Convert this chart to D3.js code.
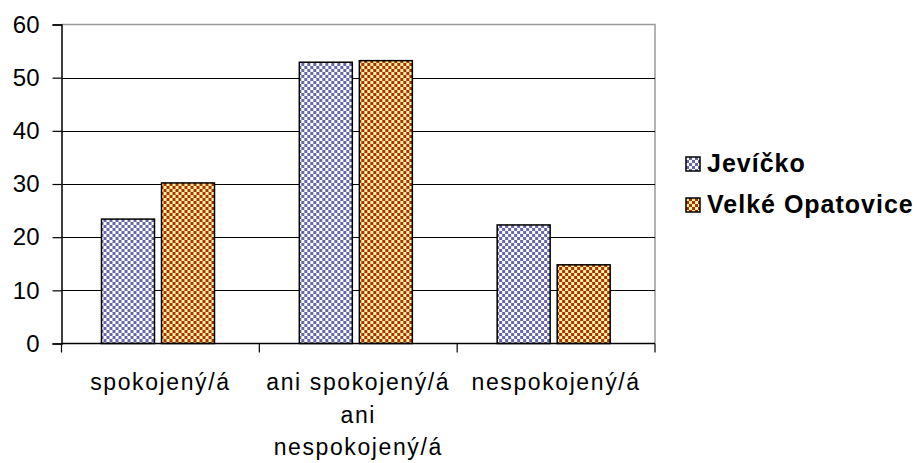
<!DOCTYPE html>
<html>
<head>
<meta charset="utf-8">
<script src="https://cdn.jsdelivr.net/npm/d3@7"></script>
<style>
  body { margin: 0; background: #fff; }
  text { font-family: "Liberation Sans", Arial, sans-serif; fill: #000; }
</style>
</head>
<body>
<div id="chart"></div>
<script>
// chart data
const categories = [["spokojený/á"], ["ani spokojený/á", "ani", "nespokojený/á"], ["nespokojený/á"]];
const seriesNames = ["Jevíčko", "Velké Opatovice"];
const jevickoValues = [23.4, 52.9, 22.3];
const opatoviceValues = [30.2, 53.2, 14.8];
const yTicks = [0, 10, 20, 30, 40, 50, 60];

const width = 917;
const height = 463;
const plot = {left: 61.5, right: 655, top: 24.5, bottom: 343.5};

const svg = d3.select('#chart')
    .append('svg')
    .attr('width', width)
    .attr('height', height);

// hatch patterns, small checkerboards
const defs = svg.append('defs');
function checker(id, dark, light) {
    const p = defs.append('pattern')
        .attr('id', id)
        .attr('patternUnits', 'userSpaceOnUse')
        .attr('width', 6).attr('height', 6);
    p.append('rect').attr('width', 6).attr('height', 6).attr('fill', dark);
    p.append('rect').attr('x', 0).attr('y', 0).attr('width', 3).attr('height', 3).attr('fill', light);
    p.append('rect').attr('x', 3).attr('y', 3).attr('width', 3).attr('height', 3).attr('fill', light);
}
checker('pat0', '#6666aa', '#ffffff');
checker('pat1', '#a83200', '#fff2a8');
const fills = ['url(#pat0)', 'url(#pat1)'];

const y = d3.scaleLinear()
    .domain([0, 60])
    .range([plot.bottom, plot.top]);

const catKeys = categories.map(c => c.join(' '));
const x0 = d3.scaleBand()
    .domain(catKeys)
    .range([plot.left, plot.right])
    .padding(0);

const x1 = d3.scaleBand()
    .domain(seriesNames)
    .range([40, 153])
    .paddingInner(0.117);

// plot area border (grey) top and right
svg.append('path')
    .attr('d', `M${plot.left},${plot.top}H${plot.right}V${plot.bottom}`)
    .attr('fill', 'none')
    .attr('stroke', '#9a9a9a')
    .attr('stroke-width', 1.5);

// gridlines
svg.append('g')
    .selectAll('line')
    .data(yTicks.filter(t => t > 0 && t < 60))
    .enter()
    .append('line')
    .attr('x1', plot.left).attr('x2', plot.right)
    .attr('y1', d => Math.round(y(d)) + 0.5)
    .attr('y2', d => Math.round(y(d)) + 0.5)
    .attr('stroke', '#000')
    .attr('stroke-width', 1.2);

// bars
const series = [jevickoValues, opatoviceValues];
const groups = svg.append('g')
    .selectAll('g')
    .data(catKeys)
    .enter()
    .append('g')
    .attr('transform', d => `translate(${x0(d)},0)`);

groups.selectAll('rect')
    .data((d, i) => seriesNames.map((s, j) => ({s: s, j: j, v: series[j][i]})))
    .enter()
    .append('rect')
    .attr('x', d => x1(d.s))
    .attr('width', x1.bandwidth())
    .attr('y', d => y(d.v))
    .attr('height', d => y(0) - y(d.v))
    .attr('fill', d => fills[d.j])
    .attr('stroke', '#000')
    .attr('stroke-width', 1.5);

// y axis
const yAxis = d3.axisLeft(y)
    .tickValues(yTicks)
    .tickSize(9)
    .tickPadding(13);
const yg = svg.append('g')
    .attr('transform', `translate(${plot.left},0)`)
    .call(yAxis);
yg.select('.domain').attr('stroke', '#000').attr('stroke-width', 1.5);
yg.selectAll('.tick line').attr('stroke', '#000').attr('stroke-width', 1.2);
yg.selectAll('.tick text')
    .style('font-size', '24px')
    .style('font-family', '"Liberation Sans", Arial, sans-serif')
    .attr('fill', '#000');

// x axis
const xg = svg.append('g')
    .attr('transform', `translate(0,${plot.bottom})`);
xg.append('line')
    .attr('x1', plot.left).attr('x2', plot.right)
    .attr('stroke', '#000').attr('stroke-width', 1.5);
const xTickPos = catKeys.map(k => x0(k)).concat([x0(catKeys[catKeys.length - 1]) + x0.bandwidth()]);
xg.selectAll('line.tk')
    .data(xTickPos)
    .enter()
    .append('line')
    .attr('class', 'tk')
    .attr('x1', d => d).attr('x2', d => d)
    .attr('y1', 0).attr('y2', 9)
    .attr('stroke', '#000').attr('stroke-width', 1.2);

// category labels, one tspan per line
const labels = svg.append('g')
    .selectAll('text')
    .data(categories)
    .enter()
    .append('text')
    .attr('text-anchor', 'middle')
    .style('font-size', '23px')
    .style('letter-spacing', '1.6px');
labels.selectAll('tspan')
    .data((d, i) => d.map(line => ({line: line, key: catKeys[i]})))
    .enter()
    .append('tspan')
    .attr('x', d => x0(d.key) + x0.bandwidth() / 2)
    .attr('y', (d, i) => 390 + i * 32.5)
    .text(d => d.line);

// legend
const legend = svg.append('g')
    .selectAll('g')
    .data(seriesNames)
    .enter()
    .append('g')
    .attr('transform', (d, i) => `translate(686,${157 + i * 41})`);
legend.append('rect')
    .attr('width', 14).attr('height', 14)
    .attr('fill', (d, i) => fills[i])
    .attr('stroke', '#000')
    .attr('stroke-width', 1.5);
legend.append('text')
    .attr('x', 21)
    .attr('y', 15)
    .style('font-size', '25px')
    .style('font-weight', 'bold')
    .style('letter-spacing', '1px')
    .text(d => d);
</script>
</body>
</html>
